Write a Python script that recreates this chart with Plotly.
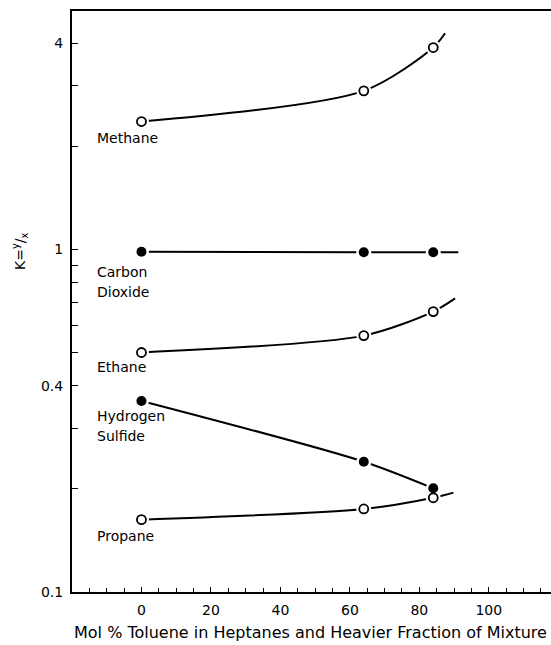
import math
import plotly.graph_objects as go

# ---- data ----
toluene_pct = [0, 64, 84]

methane_k = [2.36, 2.90, 3.88]
carbon_dioxide_k = [0.984, 0.98, 0.98]
ethane_k = [0.50, 0.560, 0.658]
hydrogen_sulfide_k = [0.361, 0.240, 0.2007]
propane_k = [0.1626, 0.1747, 0.1884]

# end points of the hand-drawn curves beyond the last measurement
methane_curve_end = (87.4, 4.27)
carbon_dioxide_curve_end = (91.2, 0.98)
ethane_curve_end = (90.3, 0.719)
hydrogen_sulfide_curve_end = None
propane_curve_end = (89.8, 0.195)

series = [
    ("Methane", methane_k, methane_curve_end, False),
    ("Carbon Dioxide", carbon_dioxide_k, carbon_dioxide_curve_end, True),
    ("Ethane", ethane_k, ethane_curve_end, False),
    ("Hydrogen Sulfide", hydrogen_sulfide_k, hydrogen_sulfide_curve_end, True),
    ("Propane", propane_k, propane_curve_end, False),
]

y_tick_vals = [0.1, 0.4, 1, 4]
y_tick_text = ["0.1", "0.4", "1", "4"]
y_minor_tick_vals = [0.2, 0.3, 0.5, 0.6, 0.7, 0.8, 0.9, 2, 3]
x_tick_vals = [0, 20, 40, 60, 80, 100]
x_tick_text = ["0", "20", "40", "60", "80", "100"]

FONT = "DejaVu Sans"

fig = go.Figure()

# curves
for name, ks, end, filled in series:
    xs = list(toluene_pct)
    ys = list(ks)
    if end is not None:
        xs.append(end[0])
        ys.append(end[1])
    fig.add_trace(go.Scatter(
        x=xs, y=ys, mode="lines",
        line=dict(color="black", width=2, shape="spline", smoothing=0.8),
        showlegend=False, hoverinfo="skip"))

# white halos to give the gap around markers
for name, ks, end, filled in series:
    fig.add_trace(go.Scatter(
        x=toluene_pct, y=ks, mode="markers",
        marker=dict(symbol="circle", size=15, color="white", line=dict(width=0)),
        showlegend=False, hoverinfo="skip"))

# markers
for name, ks, end, filled in series:
    fig.add_trace(go.Scatter(
        x=toluene_pct, y=ks, mode="markers", name=name,
        marker=dict(symbol="circle", size=10 if filled else 9,
                    color="black" if filled else "white",
                    line=dict(color="black", width=0 if filled else 1.8)),
        showlegend=False))

# compound labels (left x in data units, vertical position in log10 units)
labels = [
    ("Methane", 0.325),
    ("Carbon", -0.0654),
    ("Dioxide", -0.1237),
    ("Ethane", -0.3443),
    ("Hydrogen", -0.4864),
    ("Sulfide", -0.5448),
    ("Propane", -0.8357),
]
annotations = []
for text, ly in labels:
    annotations.append(dict(
        x=-13.4, y=ly, xref="x", yref="y", text=text, showarrow=False,
        xanchor="left", yanchor="middle",
        font=dict(family=FONT, size=14, color="black")))

# axis titles
annotations.append(dict(
    x=0.497, y=-0.069, xref="paper", yref="paper",
    text="Mol % Toluene in Heptanes and Heavier Fraction of Mixture",
    showarrow=False, xanchor="center", yanchor="middle",
    font=dict(family=FONT, size=16, color="black")))
annotations.append(dict(
    x=-0.1086, y=0.587, xref="paper", yref="paper",
    text="K=<sup>y</sup>/<sub>x</sub>", textangle=-90,
    showarrow=False, xanchor="center", yanchor="middle",
    font=dict(family=FONT, size=14, color="black")))

fig.update_layout(
    width=551, height=645,
    margin=dict(l=72, r=0, t=11, b=53),
    paper_bgcolor="white", plot_bgcolor="white",
    font=dict(family=FONT, size=14, color="black"),
    annotations=annotations,
    showlegend=False,
)

fig.update_xaxes(
    range=[-20, 117.9], showgrid=False, zeroline=False,
    showline=True, linecolor="black", linewidth=2, mirror=True,
    tickvals=x_tick_vals, ticktext=x_tick_text,
    ticks="inside", ticklen=5, tickwidth=1, tickcolor="black",
    minor=dict(dtick=5, tick0=0, ticks="inside", ticklen=4, tickwidth=1, tickcolor="black"),
    tickfont=dict(family=FONT, size=14, color="black"),
    ticklabelstandoff=4,
)
fig.update_yaxes(
    type="log", range=[-1, math.log10(4.96)], showgrid=False, zeroline=False,
    showline=True, linecolor="black", linewidth=2, mirror=False,
    tickvals=y_tick_vals, ticktext=y_tick_text,
    ticks="inside", ticklen=6, tickwidth=1, tickcolor="black",
    minor=dict(tickvals=y_minor_tick_vals, ticks="inside", ticklen=6, tickwidth=1,
               tickcolor="black"),
    tickfont=dict(family=FONT, size=14, color="black"),
    ticklabelstandoff=4,
)

fig.write_html("out.html", config={"displayModeBar": False},
               post_script="document.body.style.margin='0px';")
